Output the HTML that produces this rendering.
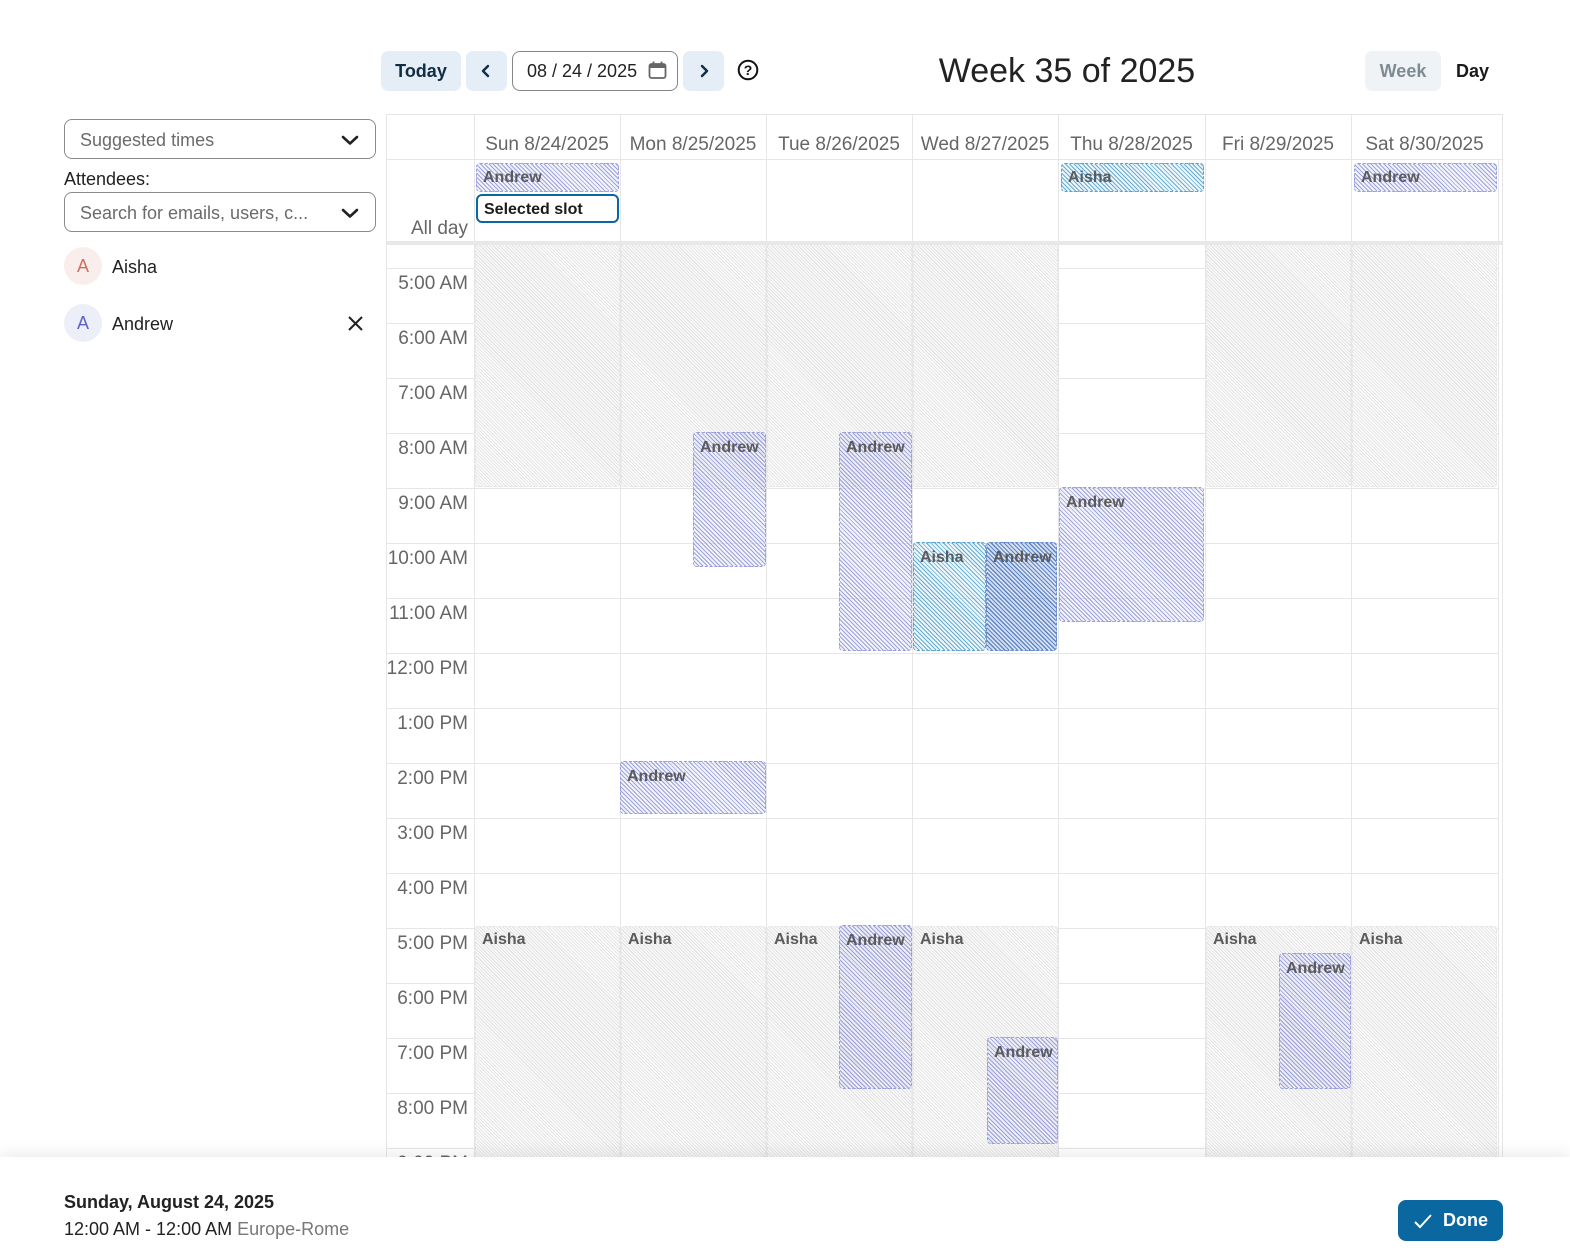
<!DOCTYPE html>
<html><head><meta charset="utf-8"><style>
*{box-sizing:border-box;margin:0;padding:0}
html,body{width:1570px;height:1254px;overflow:hidden;background:#fff;font-family:"Liberation Sans",Arial,sans-serif;color:#222}
.abs{position:absolute}
.btn{position:absolute;top:51px;height:40px;background:#e5eef6;border-radius:7px}
.vl{position:absolute;width:1px;background:#e6e6e6}
.hl{position:absolute;height:1px;background:#e6e6e6}
.dh{position:absolute;top:132px;height:26px;line-height:26px;font-size:19px;color:#666;text-align:center}
.tl{position:absolute;left:0;width:82px;text-align:right;font-size:19px;color:#666;height:26px;line-height:26px}
.gray{position:absolute;background:repeating-linear-gradient(45deg,#e0e0e0 0 0.8px,#fafafa 0.8px 2.3px);border:1px dashed #e6e6e6;border-radius:3px}
.and{position:absolute;background:repeating-linear-gradient(45deg,rgba(120,126,208,.72) 0 1px,rgba(230,232,248,.5) 1px 3px);border:1px dashed #9ca0dc;border-radius:4px}
.ais{position:absolute;background:repeating-linear-gradient(45deg,rgba(50,145,198,.75) 0 1px,rgba(220,236,246,.5) 1px 3px);border:1px dashed #5aa4cd;border-radius:4px}
.and2{position:absolute;background:repeating-linear-gradient(45deg,rgba(65,112,188,.85) 0 1.2px,rgba(175,195,230,.5) 1.2px 3px);border:1px dashed #6a8fc8;border-radius:4px}
.lab{position:absolute;left:6px;top:5px;font-size:16px;font-weight:bold;color:#5b5b5b;line-height:20px;white-space:nowrap}
.sel{position:absolute;height:40px;border:1px solid #8a8a8a;border-radius:8px;left:64px;width:312px}
.ph{position:absolute;left:15px;top:1px;line-height:38px;font-size:18px;color:#6b6b6b}
</style></head><body>

<!-- toolbar -->
<div class="btn" style="left:381px;width:80px"><div class="abs" style="left:0;width:80px;top:0;line-height:40px;text-align:center;font-weight:bold;font-size:18px;color:#0f2d45">Today</div></div>
<div class="btn" style="left:466px;width:41px"><svg class="abs" style="left:13px;top:13px" width="14" height="14" viewBox="0 0 14 14"><polyline points="9,2 4,7 9,12" fill="none" stroke="#0f2d45" stroke-width="2.4" stroke-linecap="round" stroke-linejoin="round"/></svg></div>
<div class="abs" style="left:512px;top:51px;width:166px;height:40px;border:1px solid #858585;border-radius:8px">
  <div class="abs" style="left:14px;top:0;line-height:38px;font-size:18px;color:#222">08 / 24 / 2025</div>
  <svg class="abs" style="left:135px;top:9px" width="19" height="19" viewBox="0 0 19 19"><rect x="1.5" y="3" width="16" height="14" rx="2" fill="none" stroke="#666" stroke-width="1.8"/><rect x="1.5" y="3" width="16" height="4" fill="#666"/><line x1="5.5" y1="0.5" x2="5.5" y2="4" stroke="#666" stroke-width="1.8"/><line x1="13.5" y1="0.5" x2="13.5" y2="4" stroke="#666" stroke-width="1.8"/></svg>
</div>
<div class="btn" style="left:683px;width:41px"><svg class="abs" style="left:14px;top:13px" width="14" height="14" viewBox="0 0 14 14"><polyline points="5,2 10,7 5,12" fill="none" stroke="#0f2d45" stroke-width="2.4" stroke-linecap="round" stroke-linejoin="round"/></svg></div>
<svg class="abs" style="left:737px;top:59px" width="22" height="22" viewBox="0 0 22 22"><circle cx="11" cy="11" r="9.3" fill="none" stroke="#111" stroke-width="2"/><text x="11" y="16" text-anchor="middle" font-family="Liberation Sans" font-weight="bold" font-size="14" fill="#111">?</text></svg>
<div class="abs" style="left:881px;width:372px;top:49px;line-height:44px;text-align:center;font-size:34px;color:#222">Week 35 of 2025</div>
<div class="abs" style="left:1365px;top:51px;width:76px;height:40px;background:#f0f3f6;border-radius:7px;line-height:40px;text-align:center;font-weight:bold;font-size:18px;color:#7d8b93">Week</div>
<div class="abs" style="left:1456px;top:51px;line-height:40px;font-weight:bold;font-size:18px;color:#1a1a1a">Day</div>

<!-- sidebar -->
<div class="sel" style="top:119px"><div class="ph">Suggested times</div>
<svg class="abs" style="left:276px;top:13px" width="18" height="14" viewBox="0 0 18 14"><polyline points="2,4 9,10.5 16,4" fill="none" stroke="#222" stroke-width="2.6" stroke-linecap="round" stroke-linejoin="round"/></svg></div>
<div class="abs" style="left:64px;top:167px;line-height:24px;font-size:18px;color:#222">Attendees:</div>
<div class="sel" style="top:192px"><div class="ph">Search for emails, users, c...</div>
<svg class="abs" style="left:276px;top:13px" width="18" height="14" viewBox="0 0 18 14"><polyline points="2,4 9,10.5 16,4" fill="none" stroke="#222" stroke-width="2.6" stroke-linecap="round" stroke-linejoin="round"/></svg></div>
<div class="abs" style="left:64px;top:247px;width:38px;height:38px;border-radius:50%;background:#f9eeeb;text-align:center;line-height:38px;font-size:18px;color:#d0705e">A</div>
<div class="abs" style="left:112px;top:255px;line-height:24px;font-size:18px;color:#222">Aisha</div>
<div class="abs" style="left:64px;top:304px;width:38px;height:38px;border-radius:50%;background:#eceef8;text-align:center;line-height:38px;font-size:18px;color:#5b63c7">A</div>
<div class="abs" style="left:112px;top:312px;line-height:24px;font-size:18px;color:#222">Andrew</div>
<svg class="abs" style="left:347px;top:315px" width="17" height="17" viewBox="0 0 17 17"><line x1="2" y1="2" x2="15" y2="15" stroke="#222" stroke-width="2"/><line x1="15" y1="2" x2="2" y2="15" stroke="#222" stroke-width="2"/></svg>

<!-- calendar header & all-day -->
<div class="hl" style="left:386px;top:114px;width:1117px"></div>
<div class="hl" style="left:386px;top:159px;width:1117px"></div>
<div class="vl" style="left:386px;top:114px;height:1043px"></div>
<div class="vl" style="left:1502px;top:114px;height:1043px"></div>
<div class="vl" style="left:474px;top:114px;height:128px"></div>
<div class="vl" style="left:620px;top:114px;height:128px"></div>
<div class="vl" style="left:766px;top:114px;height:128px"></div>
<div class="vl" style="left:912px;top:114px;height:128px"></div>
<div class="vl" style="left:1058px;top:114px;height:128px"></div>
<div class="vl" style="left:1205px;top:114px;height:128px"></div>
<div class="vl" style="left:1351px;top:114px;height:128px"></div>
<div class="vl" style="left:1498px;top:159px;height:83px"></div>
<div class="dh" style="left:474px;width:146px">Sun 8/24/2025</div>
<div class="dh" style="left:620px;width:146px">Mon 8/25/2025</div>
<div class="dh" style="left:766px;width:146px">Tue 8/26/2025</div>
<div class="dh" style="left:912px;width:146px">Wed 8/27/2025</div>
<div class="dh" style="left:1058px;width:147px">Thu 8/28/2025</div>
<div class="dh" style="left:1205px;width:146px">Fri 8/29/2025</div>
<div class="dh" style="left:1351px;width:147px">Sat 8/30/2025</div>
<div class="abs" style="left:386px;width:82px;top:216px;line-height:26px;text-align:right;font-size:19px;color:#666">All day</div>

<div class="and" style="left:476px;top:163px;width:143px;height:29px"><div class="lab" style="top:4px">Andrew</div></div>
<div class="abs" style="left:476px;top:194px;width:143px;height:29px;border:2px solid #0b67a0;border-radius:6px;background:#fff"><div class="abs" style="left:6px;top:3px;line-height:21px;font-size:16px;font-weight:bold;color:#1c1c1c">Selected slot</div></div>
<div class="ais" style="left:1061px;top:163px;width:143px;height:29px"><div class="lab" style="top:4px">Aisha</div></div>
<div class="and" style="left:1354px;top:163px;width:143px;height:29px"><div class="lab" style="top:4px">Andrew</div></div>

<div class="abs" style="left:386px;top:241px;width:1117px;height:4px;background:#e8e8e8"></div>

<!-- body -->
<div class="abs" style="left:386px;top:245px;width:1116px;height:912px;overflow:hidden">
  <div class="hl" style="left:0;top:23px;width:1112px"></div>
  <div class="hl" style="left:0;top:78px;width:1112px"></div>
  <div class="hl" style="left:0;top:133px;width:1112px"></div>
  <div class="hl" style="left:0;top:188px;width:1112px"></div>
  <div class="hl" style="left:0;top:243px;width:1112px"></div>
  <div class="hl" style="left:0;top:298px;width:1112px"></div>
  <div class="hl" style="left:0;top:353px;width:1112px"></div>
  <div class="hl" style="left:0;top:408px;width:1112px"></div>
  <div class="hl" style="left:0;top:463px;width:1112px"></div>
  <div class="hl" style="left:0;top:518px;width:1112px"></div>
  <div class="hl" style="left:0;top:573px;width:1112px"></div>
  <div class="hl" style="left:0;top:628px;width:1112px"></div>
  <div class="hl" style="left:0;top:683px;width:1112px"></div>
  <div class="hl" style="left:0;top:738px;width:1112px"></div>
  <div class="hl" style="left:0;top:793px;width:1112px"></div>
  <div class="hl" style="left:0;top:848px;width:1112px"></div>
  <div class="hl" style="left:0;top:903px;width:1112px"></div>
  <div class="vl" style="left:88px;top:0;height:912px"></div>
  <div class="vl" style="left:234px;top:0;height:912px"></div>
  <div class="vl" style="left:380px;top:0;height:912px"></div>
  <div class="vl" style="left:526px;top:0;height:912px"></div>
  <div class="vl" style="left:672px;top:0;height:912px"></div>
  <div class="vl" style="left:819px;top:0;height:912px"></div>
  <div class="vl" style="left:965px;top:0;height:912px"></div>
  <div class="vl" style="left:1112px;top:0;height:912px"></div>
  <div class="tl" style="top:26px">5:00 AM</div>
  <div class="tl" style="top:81px">6:00 AM</div>
  <div class="tl" style="top:136px">7:00 AM</div>
  <div class="tl" style="top:191px">8:00 AM</div>
  <div class="tl" style="top:246px">9:00 AM</div>
  <div class="tl" style="top:301px">10:00 AM</div>
  <div class="tl" style="top:356px">11:00 AM</div>
  <div class="tl" style="top:411px">12:00 PM</div>
  <div class="tl" style="top:466px">1:00 PM</div>
  <div class="tl" style="top:521px">2:00 PM</div>
  <div class="tl" style="top:576px">3:00 PM</div>
  <div class="tl" style="top:631px">4:00 PM</div>
  <div class="tl" style="top:686px">5:00 PM</div>
  <div class="tl" style="top:741px">6:00 PM</div>
  <div class="tl" style="top:796px">7:00 PM</div>
  <div class="tl" style="top:851px">8:00 PM</div>
  <div class="tl" style="top:906px">9:00 PM</div>

  <div class="gray" style="left:89px;top:-6px;width:145px;height:248px"></div>
  <div class="gray" style="left:235px;top:-6px;width:145px;height:248px"></div>
  <div class="gray" style="left:381px;top:-6px;width:145px;height:248px"></div>
  <div class="gray" style="left:527px;top:-6px;width:145px;height:248px"></div>
  <div class="gray" style="left:820px;top:-6px;width:145px;height:248px"></div>
  <div class="gray" style="left:966px;top:-6px;width:145px;height:248px"></div>
  <div class="gray" style="left:89px;top:681px;width:145px;height:236px"><div class="lab" style="top:3px">Aisha</div></div>
  <div class="gray" style="left:235px;top:681px;width:145px;height:236px"><div class="lab" style="top:3px">Aisha</div></div>
  <div class="gray" style="left:381px;top:681px;width:145px;height:236px"><div class="lab" style="top:3px">Aisha</div></div>
  <div class="gray" style="left:527px;top:681px;width:145px;height:236px"><div class="lab" style="top:3px">Aisha</div></div>
  <div class="gray" style="left:820px;top:681px;width:145px;height:236px"><div class="lab" style="top:3px">Aisha</div></div>
  <div class="gray" style="left:966px;top:681px;width:145px;height:236px"><div class="lab" style="top:3px">Aisha</div></div>

  <div class="and" style="left:307px;top:187px;width:73px;height:135px"><div class="lab">Andrew</div></div>
  <div class="and" style="left:453px;top:187px;width:73px;height:219px"><div class="lab">Andrew</div></div>
  <div class="ais" style="left:527px;top:297px;width:73px;height:109px"><div class="lab">Aisha</div></div>
  <div class="and2" style="left:600px;top:297px;width:71px;height:109px"><div class="lab">Andrew</div></div>
  <div class="and" style="left:673px;top:242px;width:145px;height:135px"><div class="lab">Andrew</div></div>
  <div class="and" style="left:234px;top:516px;width:146px;height:53px"><div class="lab">Andrew</div></div>
  <div class="and" style="left:453px;top:680px;width:73px;height:164px"><div class="lab">Andrew</div></div>
  <div class="and" style="left:601px;top:792px;width:71px;height:107px"><div class="lab">Andrew</div></div>
  <div class="and" style="left:893px;top:708px;width:72px;height:136px"><div class="lab">Andrew</div></div>
</div>

<!-- footer -->
<div class="abs" style="left:0;top:1157px;width:1570px;height:97px;background:#fff;box-shadow:0 -5px 14px rgba(0,0,0,0.07)"></div>
<div class="abs" style="left:64px;top:1190px;line-height:24px;font-size:18px;font-weight:bold;color:#222">Sunday, August 24, 2025</div>
<div class="abs" style="left:64px;top:1217px;line-height:24px;font-size:18px;color:#222">12:00 AM - 12:00 AM <span style="color:#777">Europe-Rome</span></div>
<div class="abs" style="left:1398px;top:1200px;width:105px;height:41px;background:#0a67a0;border-radius:8px">
  <svg class="abs" style="left:15px;top:11px" width="20" height="20" viewBox="0 0 20 20"><polyline points="2,11 7,16 18,4" fill="none" stroke="#fff" stroke-width="2"/></svg>
  <div class="abs" style="left:45px;top:0;line-height:40px;font-size:18px;font-weight:bold;color:#fff">Done</div>
</div>
</body></html>
